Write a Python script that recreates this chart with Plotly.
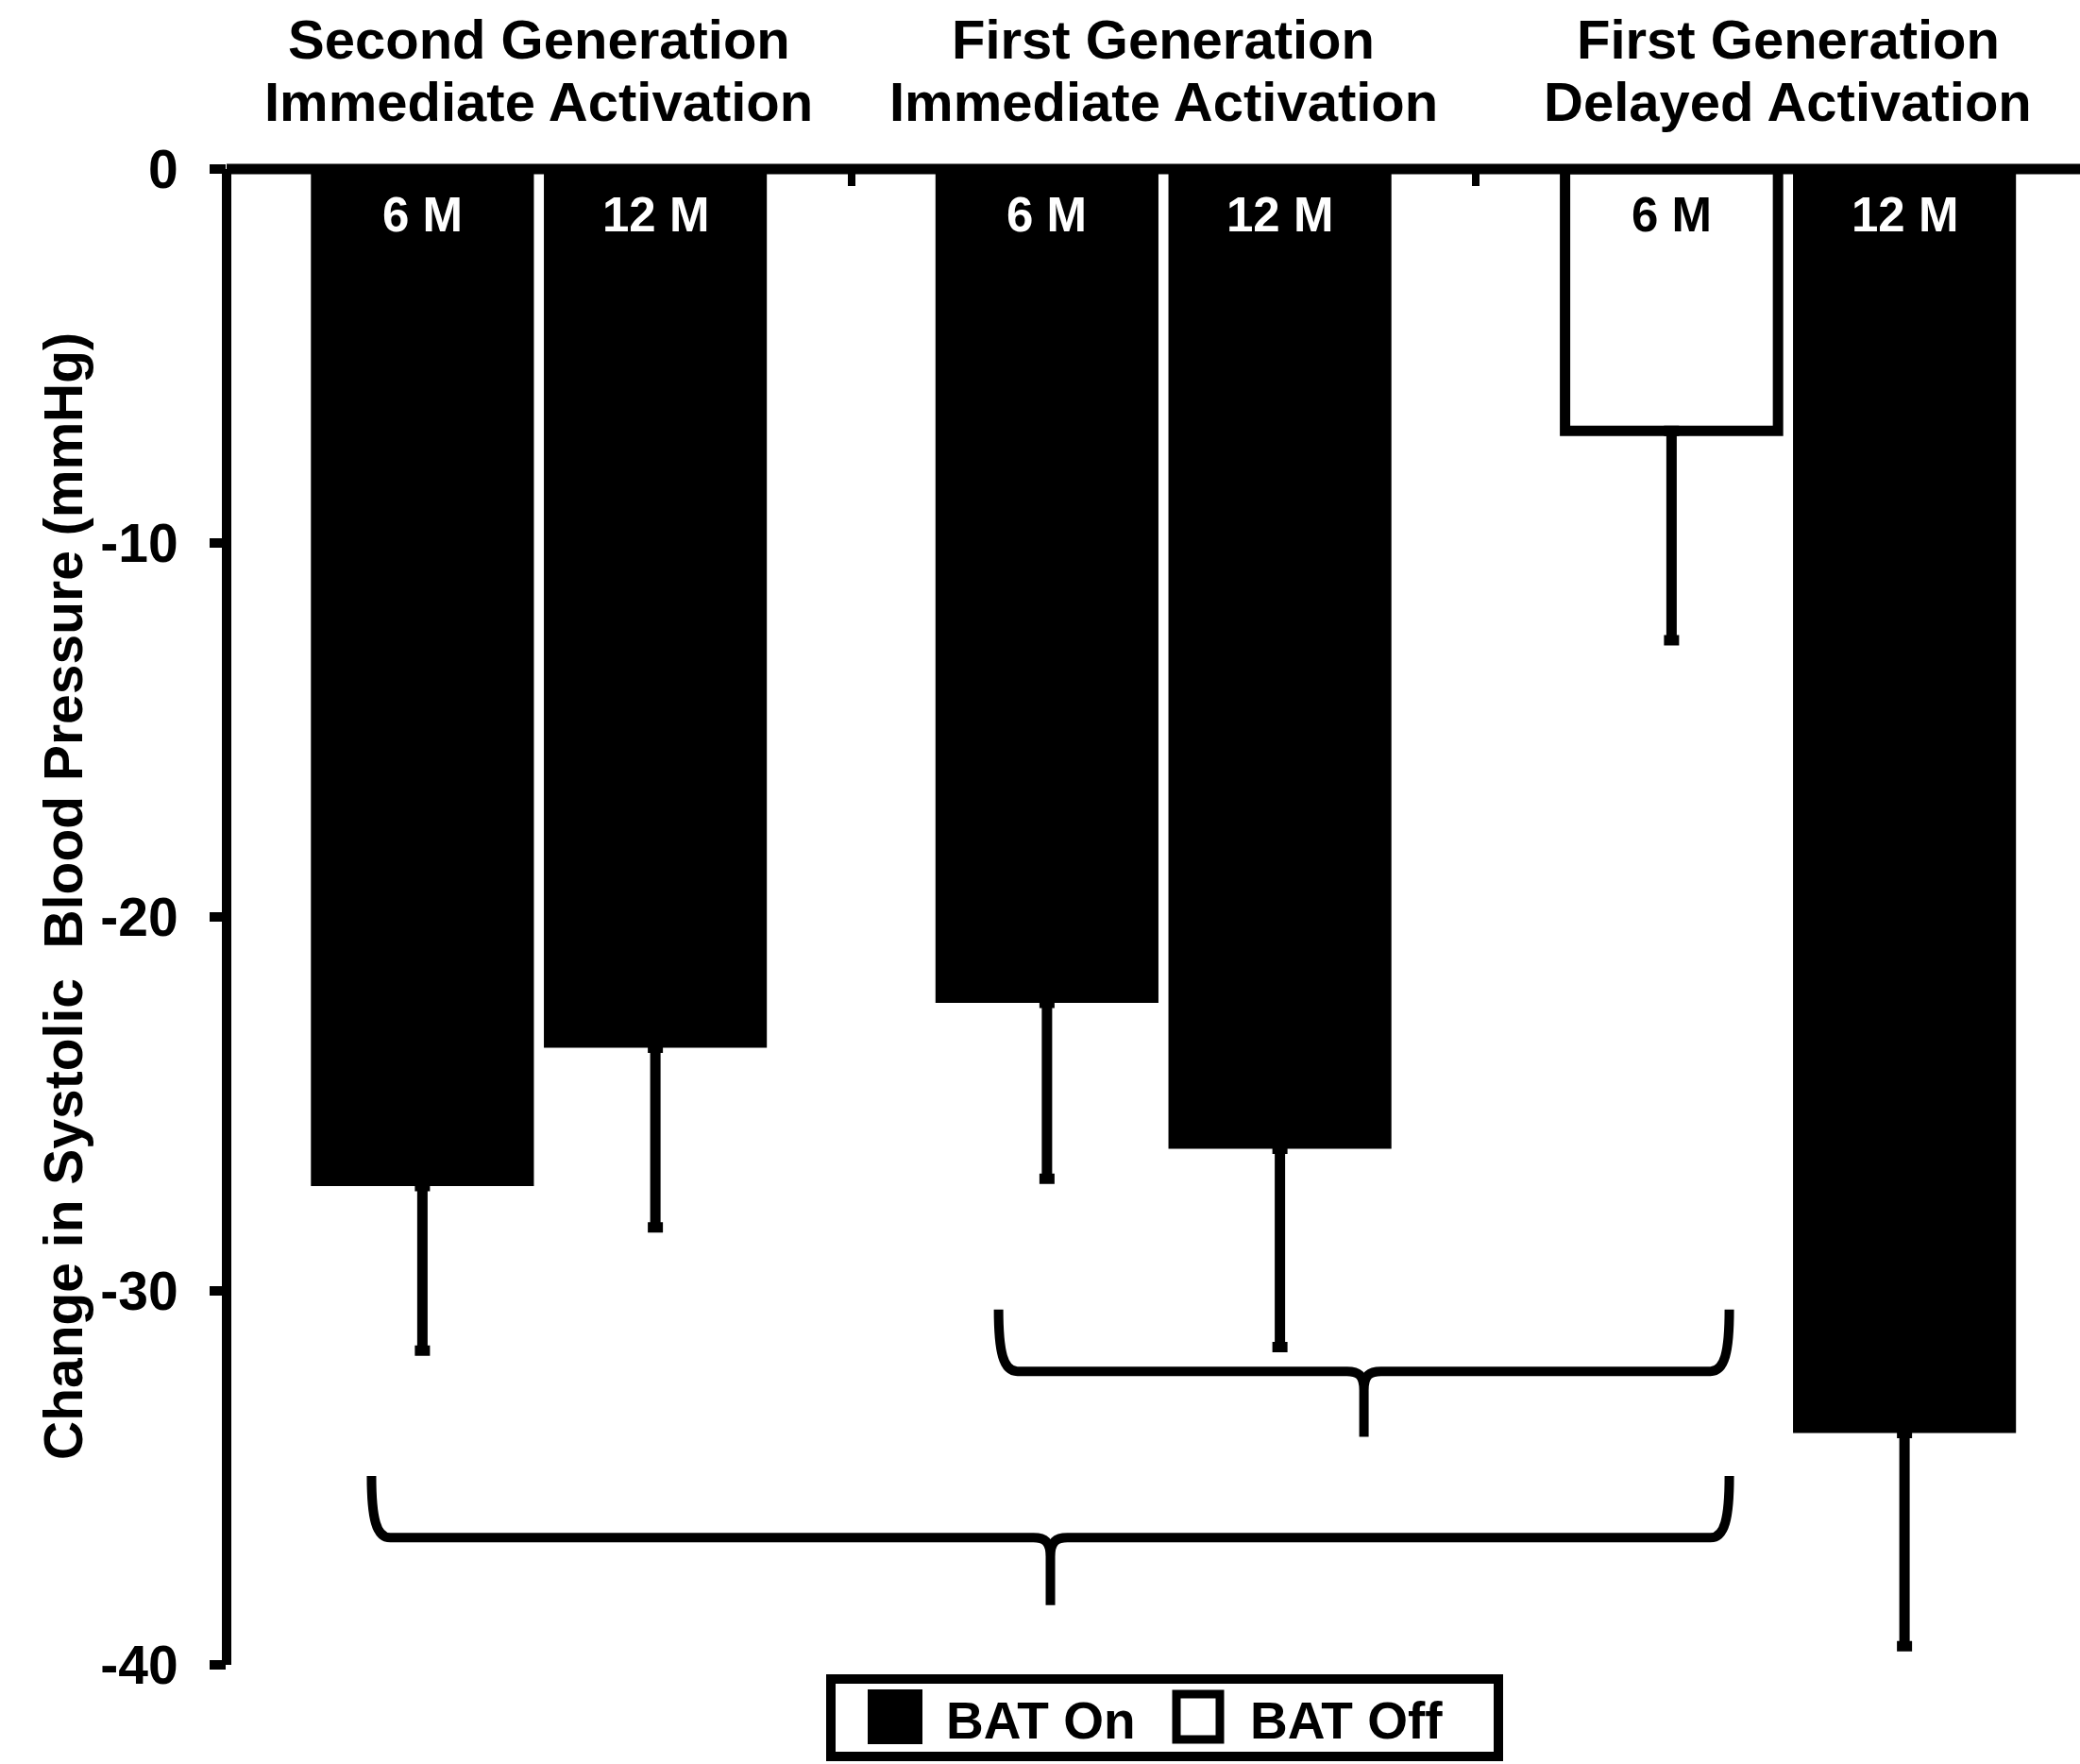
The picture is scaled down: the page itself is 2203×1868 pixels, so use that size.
import plotly.graph_objects as go

# ---- data -------------------------------------------------------------
GROUP_TITLES = [
    ("Second Generation", "Immediate Activation"),
    ("First Generation", "Immediate Activation"),
    ("First Generation", "Delayed Activation"),
]
GROUP_POS = [0, 1, 2]
TIMEPOINTS = ["6 M", "12 M"]
CHANGE_6M = [-27.2, -22.3, -7.0]      # mean change in SBP (mmHg)
CHANGE_12M = [-23.5, -26.2, -33.8]
ERR_6M = [4.4, 4.7, 5.6]              # error bar length (mmHg)
ERR_12M = [4.8, 5.3, 5.7]
BAT_ON_6M = [True, True, False]
BAT_ON_12M = [True, True, True]
Y_TICKS = [0, -10, -20, -30, -40]
Y_TICK_TEXT = ["0", "-10", "-20", "-30", "-40"]
LEGEND_LABELS = ["BAT On", "BAT Off"]
# comparison braces: (left x, right x, top of ends, bar line, tip) in axis units
BRACES = [
    (0.736, 1.906, -30.5, -32.15, -33.9),
    (-0.268, 1.906, -34.95, -36.6, -38.4),
]

# ---- layout geometry --------------------------------------------------
W, H = 2203, 1868
M_L, M_R, M_T, M_B = 240, 0, 179, 105
X_RANGE = [-0.5, 2.4675]
Y_RANGE = [-40, 0]
PLOT_W = W - M_L - M_R
PLOT_H = H - M_T - M_B
PX_X = PLOT_W / (X_RANGE[1] - X_RANGE[0])   # pixels per x unit
PX_Y = PLOT_H / (Y_RANGE[1] - Y_RANGE[0])   # pixels per y unit
FONT = "Liberation Sans, Arial, sans-serif"
BAR_OFFSET = 0.1865


def paper_x(p):
    return (p - M_L) / PLOT_W


def paper_y(p):
    return (H - M_B - p) / PLOT_H


def bar_style(flags):
    colors = ["black" if on else "white" for on in flags]
    lines = [0 if on else 11 for on in flags]
    widths = [0.357 if on else 0.341 for on in flags]
    return colors, lines, widths


fig = go.Figure()
for name, vals, errs, flags in [
    (TIMEPOINTS[0], CHANGE_6M, ERR_6M, BAT_ON_6M),
    (TIMEPOINTS[1], CHANGE_12M, ERR_12M, BAT_ON_12M),
]:
    colors, lines, widths = bar_style(flags)
    fig.add_trace(go.Bar(
        x=GROUP_POS, y=vals, name=name, width=widths,
        marker=dict(color=colors, line=dict(color="black", width=lines)),
        error_y=dict(type="data", symmetric=False,
                     array=[0] * len(errs), arrayminus=errs,
                     color="black", thickness=11, width=8),
        showlegend=False,
    ))

annotations = []
# group titles over the plot
for i, (l1, l2) in zip(GROUP_POS, GROUP_TITLES):
    for text, p in [(l1, 42), (l2, 107)]:
        annotations.append(dict(
            x=i, xref="x", y=paper_y(p), yref="paper", text=text,
            showarrow=False, xanchor="center", yanchor="middle",
            font=dict(family=FONT, size=58, color="black", weight="bold")))

# time-point labels inside the bars
for k, (vals, flags) in enumerate([(CHANGE_6M, BAT_ON_6M), (CHANGE_12M, BAT_ON_12M)]):
    sign = -1 if k == 0 else 1
    for i, on in zip(GROUP_POS, flags):
        annotations.append(dict(
            x=i + sign * BAR_OFFSET, xref="x", y=0, yref="y", yshift=-48,
            text=TIMEPOINTS[k], showarrow=False, xanchor="center", yanchor="middle",
            font=dict(family=FONT, size=51, color="white" if on else "black",
                      weight="bold")))

# y-axis title
annotations.append(dict(
    x=paper_x(67), xref="paper", y=paper_y(949), yref="paper",
    text="Change in Systolic  Blood Pressure (mmHg)", textangle=-90,
    showarrow=False, xanchor="center", yanchor="middle",
    font=dict(family=FONT, size=57, color="black", weight="bold")))

shapes = []
# axis lines
shapes.append(dict(type="line", xref="paper", yref="paper", x0=0, x1=0, y0=0, y1=1,
                   line=dict(color="black", width=10), layer="above"))
shapes.append(dict(type="line", xref="paper", yref="paper", x0=0, x1=1, y0=1, y1=1,
                   line=dict(color="black", width=11), layer="above"))


def brace_path(xl, xr, yt, yh, ytip):
    xm = (xl + xr) / 2
    dx = lambda p: p / PX_X
    dy = lambda p: p / PX_Y
    pts = [
        f"M {xl},{yt}",
        f"C {xl},{yt - dy(45)} {xl + dx(5)},{yh} {xl + dx(20)},{yh}",
        f"L {xm - dx(18)},{yh}",
        f"C {xm - dx(6)},{yh} {xm},{yh - dy(4)} {xm},{yh - dy(20)}",
        f"L {xm},{ytip}",
        f"M {xm},{yh - dy(20)}",
        f"C {xm},{yh - dy(4)} {xm + dx(6)},{yh} {xm + dx(18)},{yh}",
        f"L {xr - dx(20)},{yh}",
        f"C {xr - dx(5)},{yh} {xr},{yt - dy(45)} {xr},{yt}",
    ]
    return " ".join(pts)


for b in BRACES:
    shapes.append(dict(type="path", xref="x", yref="y", path=brace_path(*b),
                       line=dict(color="black", width=10), layer="above"))

# legend box
shapes.append(dict(type="rect", xref="paper", yref="paper",
                   x0=paper_x(880), x1=paper_x(1587), y0=paper_y(1860), y1=paper_y(1778),
                   line=dict(color="black", width=10), fillcolor="white"))
shapes.append(dict(type="rect", xref="paper", yref="paper",
                   x0=paper_x(919), x1=paper_x(977), y0=paper_y(1847), y1=paper_y(1789),
                   line=dict(color="black", width=0), fillcolor="black"))
shapes.append(dict(type="rect", xref="paper", yref="paper",
                   x0=paper_x(1246), x1=paper_x(1292), y0=paper_y(1842), y1=paper_y(1794),
                   line=dict(color="black", width=9), fillcolor="white"))
for text, p in zip(LEGEND_LABELS, [1000, 1322]):
    annotations.append(dict(
        x=paper_x(p), xref="paper", y=paper_y(1822), yref="paper", text=text,
        showarrow=False, xanchor="left", yanchor="middle",
        font=dict(family=FONT, size=55, color="black", weight="bold")))

fig.update_layout(
    width=W, height=H,
    margin=dict(l=M_L, r=M_R, t=M_T, b=M_B, autoexpand=False),
    paper_bgcolor="white", plot_bgcolor="white",
    barmode="group", bargap=0.254, bargroupgap=0.043,
    annotations=annotations, shapes=shapes,
    xaxis=dict(range=X_RANGE, side="top", showline=False, showgrid=False,
               zeroline=False, tickvals=[0.5, 1.5], showticklabels=False,
               ticks="inside", ticklen=18, tickwidth=8, tickcolor="black"),
    yaxis=dict(range=Y_RANGE, showline=False, showgrid=False, zeroline=False,
               tickvals=Y_TICKS, ticktext=Y_TICK_TEXT, ticks="outside",
               ticklen=17, tickwidth=10, tickcolor="black", ticklabelstandoff=22,
               tickfont=dict(family=FONT, size=57, color="black", weight="bold")),
)

fig.write_html("out.html")
